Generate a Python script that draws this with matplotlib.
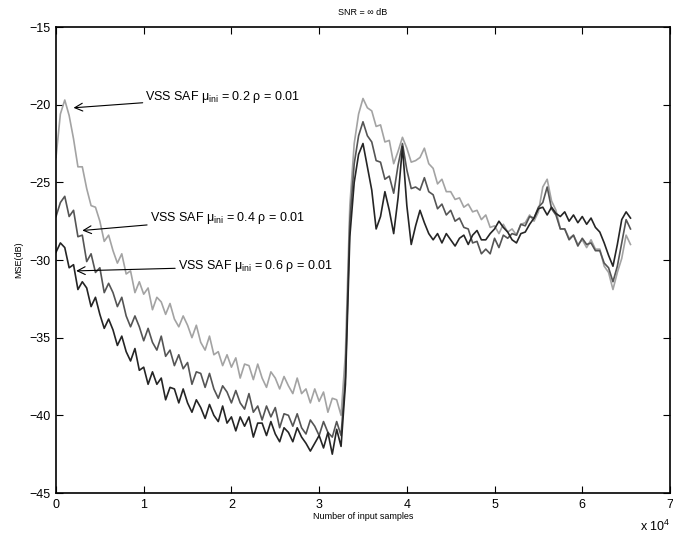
import numpy as np
import matplotlib
matplotlib.use("Agg")
import matplotlib.pyplot as plt

plt.rcParams['font.family'] = ['Liberation Sans', 'DejaVu Sans']
plt.rcParams['mathtext.fontset'] = 'custom'
plt.rcParams['mathtext.rm'] = 'Liberation Sans'
plt.rcParams['mathtext.it'] = 'Liberation Sans:italic'

# MSE curves (dB), one value every 500 input samples
mse_02 = [-23.4, -20.6, -19.7, -20.7, -22.2, -24.0, -24.0, -25.4, -26.5, -26.6,
          -27.5, -28.8, -28.4, -29.4, -30.2, -29.6, -30.9, -30.7, -32.1, -31.4,
          -32.2, -31.8, -33.2, -32.4, -32.7, -33.5, -32.8, -33.8, -34.3, -33.6,
          -34.2, -35.0, -34.2, -35.3, -35.8, -34.9, -36.1, -35.9, -36.8, -36.1,
          -36.9, -36.3, -37.6, -36.7, -36.8, -37.7, -36.7, -37.6, -38.2, -37.2,
          -37.6, -38.3, -37.5, -38.1, -38.6, -37.6, -38.6, -38.3, -39.2, -38.3,
          -39.1, -38.5, -39.8, -38.9, -39.0, -40.0,
          -36.0, -26.5, -22.5, -20.6, -19.6, -20.2, -20.4, -21.4, -21.3, -22.4,
          -22.3, -23.8, -23.0, -22.1, -22.8, -23.7, -23.6, -23.4, -22.8, -23.8,
          -24.1, -25.1, -24.8, -25.6, -25.6, -26.1, -26.0, -26.6, -26.4, -26.9,
          -26.8, -27.4, -27.1, -27.9, -27.8, -28.3, -27.7, -28.2, -28.0, -28.4,
          -27.7, -27.6, -27.1, -27.5, -26.9, -25.3, -24.8, -26.2, -26.8, -28.0,
          -28.0, -28.6, -28.4, -29.0, -28.7, -29.2, -28.7, -29.3, -29.3, -30.4,
          -30.8, -31.9, -30.8, -29.9, -28.4, -29.0]

mse_04 = [-27.2, -26.3, -25.9, -27.2, -26.8, -28.5, -28.4, -30.1, -29.6, -30.8,
          -30.5, -32.1, -31.5, -32.1, -33.0, -32.4, -33.6, -34.3, -33.6, -34.3,
          -35.2, -34.4, -35.3, -35.8, -34.9, -36.2, -35.8, -36.8, -36.1, -37.0,
          -36.6, -38.0, -37.2, -37.3, -38.2, -37.3, -38.3, -38.9, -38.1, -38.5,
          -39.2, -38.4, -39.2, -39.6, -38.6, -39.8, -39.4, -40.3, -39.4, -40.1,
          -39.5, -40.8, -39.9, -40.0, -40.7, -39.9, -40.8, -41.2, -40.3, -40.7,
          -41.3, -40.4, -41.1, -41.4, -40.4, -41.3,
          -37.5, -27.5, -23.8, -22.0, -21.1, -22.0, -22.4, -23.6, -23.7, -24.8,
          -24.6, -25.7, -23.9, -22.5, -24.2, -25.4, -25.3, -25.5, -24.7, -25.6,
          -25.8, -26.7, -26.4, -27.1, -26.8, -27.5, -27.3, -27.9, -28.0, -28.9,
          -28.8, -29.6, -29.3, -29.6, -28.6, -29.2, -28.4, -28.6, -28.3, -28.4,
          -27.7, -27.8, -27.2, -27.3, -26.6, -26.3, -25.3, -26.7, -27.1, -28.0,
          -28.0, -28.7, -28.4, -29.1, -28.6, -29.0, -28.9, -29.4, -29.4, -30.2,
          -30.5, -31.4, -30.4, -28.9, -27.4, -28.0]

mse_06 = [-29.5, -28.9, -29.2, -30.5, -30.3, -31.9, -31.4, -31.8, -33.0, -32.4,
          -33.5, -34.4, -33.8, -34.5, -35.5, -34.9, -35.9, -36.5, -35.7, -37.1,
          -36.9, -38.0, -37.2, -38.0, -37.6, -39.0, -38.2, -38.3, -39.2, -38.3,
          -39.2, -39.8, -39.0, -39.5, -40.2, -39.3, -40.0, -40.4, -39.4, -40.5,
          -40.1, -41.0, -40.1, -40.7, -40.1, -41.4, -40.5, -40.5, -41.3, -40.4,
          -41.2, -41.7, -40.8, -41.1, -41.7, -40.8, -41.4, -41.8, -42.3, -41.8,
          -41.3, -42.1, -41.1, -42.5, -40.9, -42.0,
          -38.0, -28.5, -25.0, -23.2, -22.5, -24.0, -25.5, -28.0, -27.2, -25.6,
          -26.8, -28.3, -26.0, -22.7, -26.5, -29.0, -27.8, -26.8, -27.6, -28.3,
          -28.7, -28.3, -28.9, -28.3, -28.7, -29.1, -28.6, -28.4, -29.0, -28.4,
          -28.1, -28.7, -28.7, -28.3, -28.0, -27.5, -27.9, -28.2, -28.7, -28.9,
          -28.3, -28.2, -27.7, -27.3, -26.7, -26.6, -27.1, -26.6, -27.0, -27.2,
          -26.9, -27.5, -27.1, -27.6, -27.2, -27.7, -27.3, -27.9, -28.2, -28.9,
          -29.7, -30.4, -29.0, -27.4, -26.9, -27.3]

samples = 500 * np.arange(len(mse_02))

xtick_vals = [0, 10000, 20000, 30000, 40000, 50000, 60000, 70000]
xtick_labels = ['0', '1', '2', '3', '4', '5', '6', '7']
ytick_vals = [-45, -40, -35, -30, -25, -20, -15]

labels = ['VSS SAF \u03bc$_{\\mathrm{ini}}$ = 0.2 \u03c1 = 0.01',
          'VSS SAF \u03bc$_{\\mathrm{ini}}$ = 0.4 \u03c1 = 0.01',
          'VSS SAF \u03bc$_{\\mathrm{ini}}$ = 0.6 \u03c1 = 0.01']

fig = plt.figure(figsize=(6.73, 5.35), dpi=100)
ax = fig.add_axes([0.0832, 0.0785, 0.9123, 0.871])

ax.plot(samples, mse_02, color='#a3a3a3', lw=1.2)
ax.plot(samples, mse_04, color='#555555', lw=1.2)
ax.plot(samples, mse_06, color='#252525', lw=1.2)

ax.set_xlim(0, 70000)
ax.set_ylim(-45, -15)
ax.set_xticks(xtick_vals)
ax.set_xticklabels(xtick_labels)
ax.set_yticks(ytick_vals)
ax.tick_params(direction='in', length=5, width=0.8, top=True, right=True,
               labelsize=9, pad=4)
for sp in ax.spines.values():
    sp.set_linewidth(1.2)

ax.set_title('SNR = \u221e dB', fontsize=6.5, pad=9)
ax.set_xlabel('Number of input samples', fontsize=6.5, labelpad=1)
ax.set_ylabel('MSE(dB)', fontsize=6.5, labelpad=4)
ax.text(1.0, -0.055, 'x 10$^{4}$', transform=ax.transAxes, ha='right',
        va='top', fontsize=9)

arrow = dict(arrowstyle='->', color='black', lw=0.8,
             shrinkA=0, shrinkB=0, mutation_scale=14)
ax.annotate(labels[0], xy=(2000, -20.2), xytext=(10200, -19.5),
            fontsize=9, va='center', ha='left', arrowprops=arrow)
ax.annotate(labels[1], xy=(3000, -28.1), xytext=(10700, -27.3),
            fontsize=9, va='center', ha='left', arrowprops=arrow)
ax.annotate(labels[2], xy=(2300, -30.7), xytext=(13900, -30.4),
            fontsize=9, va='center', ha='left', arrowprops=arrow)

fig.savefig('out.png', dpi=100)
